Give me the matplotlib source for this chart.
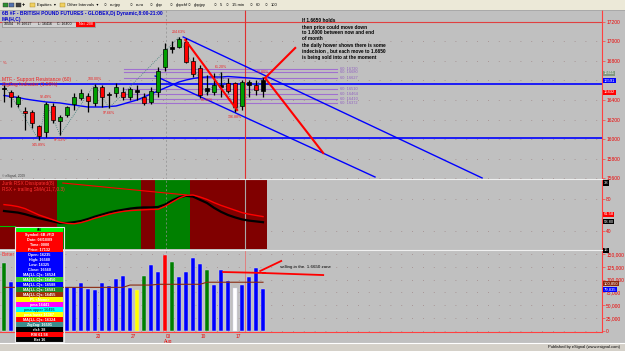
import matplotlib
matplotlib.use("Agg")
import matplotlib.pyplot as plt
from matplotlib.patches import Rectangle
from matplotlib import transforms

plt.rcParams['font.family'] = ['Liberation Sans', 'DejaVu Sans']
plt.rcParams['font.size'] = 3

# daily bars of 6B #F (1 Jul - 21 Aug 2009)
opens = [16522, 16481, 16358, 16287, 16277, 16134, 16073, 16338, 16185, 16246,
         16358, 16420, 16440, 16369, 16532, 16461, 16471, 16481, 16430, 16501,
         16430, 16379, 16481, 16736, 16940, 16940, 16991, 16797, 16726, 16522,
         16481, 16552, 16573, 16573, 16338, 16583, 16552, 16491]
highs = [16552, 16501, 16450, 16328, 16297, 16144, 16379, 16369, 16246, 16338,
         16471, 16511, 16471, 16562, 16552, 16481, 16573, 16532, 16532, 16552,
         16471, 16532, 16736, 16981, 17001, 17042, 17032, 16838, 16756, 16654,
         16675, 16685, 16624, 16583, 16603, 16603, 16603, 16634]
lows = [16379, 16328, 16328, 16093, 16114, 15991, 16022, 16165, 16042, 16226,
        16297, 16399, 16277, 16338, 16328, 16318, 16430, 16399, 16399, 16399,
        16348, 16358, 16430, 16695, 16879, 16930, 16777, 16634, 16420, 16450,
        16450, 16430, 16471, 16277, 16297, 16430, 16450, 16430]
closes = [16512, 16430, 16430, 16267, 16165, 16032, 16358, 16195, 16226, 16328,
          16430, 16471, 16389, 16532, 16430, 16450, 16532, 16430, 16511, 16481,
          16369, 16491, 16695, 16920, 16920, 17021, 16787, 16664, 16450, 16491,
          16552, 16532, 16491, 16328, 16583, 16552, 16501, 16603]
candle_colors = "krgrrrgrgg" "ggrgrkgrgk" "rgggkgrrrk" "gkrrgkrk"

# MA(H,C) curve on the price panel
ma_hc = [16445, 16435, 16425, 16410, 16399, 16389, 16379, 16374, 16369, 16358,
         16348, 16338, 16328, 16328, 16328, 16333, 16338, 16358, 16379, 16399,
         16430, 16461, 16491, 16522, 16552, 16583, 16603, 16619, 16629, 16634,
         16634, 16634, 16639, 16634, 16629, 16624, 16619, 16614]

volumes = [132500, 95500, 100000, 110000, 95000, 120000, 125000, 100000, 105000, 85700,
           85700, 93500, 81800, 79900, 93500, 87700, 101300, 107100, 83800, 79900,
           107100, 128600, 114900, 148000, 134400, 105200, 114900, 142200, 130500, 118800,
           89600, 118800, 97400, 83800, 89600, 105200, 122700, 81800]
volume_colors = "gbbbbbbbbbbbbbbbbbbygbbrgbbbbgbbbwbbbb"
vol_ma = [85000, 85000, 85000, 85000, 85000, 85000, 85000, 85000, 85000, 85000,
          85000, 85000, 85000, 85000, 85000, 85000, 85000, 85000, 89500, 89500,
          89500, 89500, 91000, 91000, 91000, 91000, 91000, 91000, 91000, 95000,
          95000, 95000, 95000, 95000, 95000, 95000, 95000, 95000]

# Jurik RSX and its trailing SMA
rsx = [65, 64, 63, 61, 58.5, 56, 54, 52, 50, 50,
       51, 52.5, 55, 58, 60.5, 63, 65, 66.5, 68, 69,
       69.5, 69.5, 70, 73, 78, 82, 84, 83, 79, 75,
       69, 64, 60, 57, 54.5, 53, 52, 51]
rsx_sma = [73, 72, 70.5, 68, 64, 60, 57, 54, 51, 49.5,
           49, 50.5, 53, 56, 58.5, 61, 63, 64.5, 65.5, 66,
           66.5, 67, 67, 71, 76, 81, 84.5, 85, 82.5, 79.5,
           75.5, 72, 69, 66, 63, 61, 59.5, 58]
rsx_zone = "rrrrrrrr" "gggggggggggg" "rr" "ggggg" "rrrrrrrrrrr"

# ZigZag pivots
zz_idx = [0, 5, 6, 8, 13, 15, 25, 29, 31, 33, 37]
zz_price = [16552, 15991, 16379, 16042, 16562, 16318, 17042, 16450, 16685, 16277, 16634]
zz_labels = ["", "145.89%", "92.49%", "97.53%", "100.00%", "97.66%", "204.63%",
             "80.96%", "61.20%", "136.88%", "98.80%"]

sr_levels = [16720, 16680, 16627, 16510, 16464, 16410, 16372]
blue_levels = [16565, 16010]
price_ticks = [15600, 15800, 16000, 16200, 16400, 16600, 16800, 17000, 17200]
price_labels = ["15600", "15800", "16000", "16200", "16400", "", "16800", "17000", "17200"]
rsi_ticks = [40, 80]
vol_ticks = [0, 25000, 50000, 75000, 100000, 125000, 150000]
date_ticks = [13, 18, 23, 28, 33]
date_labels = ["20", "27", "03", "10", "17"]

# hand drawn lines (bar index, value)
channel_lines = [([25.6, 68.3], [17042, 15604]), ([21.6, 53.0], [16644, 15614])]
red_lines = [([25.9, 33.3], [17011, 16297]), ([37.3, 41.6], [16624, 16930]),
             ([37.3, 45.6], [16624, 15859])]
rsx_trend = ([8.4, 26.1], [100, 85])
vol_lines = [([31.3, 37.3], [114900, 113000]), ([37.0, 45.6], [113000, 109000]),
             ([36.6, 39.6], [116900, 136400])]
cursor_bar = 34.43
week_bar = 23.14

note = ["If 1.6650 holds", "then price could move down", "to 1.6000 between now and end",
        "of month", "the daily hower shows there is some",
        "indecision , but each move to 1.6650", "is being sold into at the moment"]

info_rows = [("6B", "#00ff00", "black"),
             ("Symbol: 6B #F,D", "#ff0000", "white"), ("Date: 08/18/09", "#ff0000", "white"),
             ("Time: 0000", "#ff0000", "white"), ("Price: 17132", "#ff0000", "white"),
             ("Open: 16235", "#0000ff", "white"), ("High: 16580", "#0000ff", "white"),
             ("Low: 16325", "#0000ff", "white"), ("Close: 16560", "#0000ff", "white"),
             ("MA(1,L,C)s: 16524", "#0000ff", "white"), ("MA(1,L,C)s: 16450", "#33cc33", "white"),
             ("MA(1,L,C)s: 16588", "#0000ff", "white"), ("MA(1,L,C)s: 16581", "#228b22", "white"),
             ("MA(1,L,C)s: 16455", "#a0300a", "white"), ("PL <None>", "#ffff00", "white"),
             ("pma 16441", "#ff00ff", "white"), ("pma upper 16495", "#00ffff", "#006060"),
             ("pma lower 16387", "#ffff00", "white"), ("MA(1,L,C)s: 16324", "#ff0000", "white"),
             ("ZigZag: 16591", "#3c8c8c", "white"), ("rlsf: 38", "#000000", "white"),
             ("RSI 61.58", "#ff0000", "white"), ("Bet 16", "#000000", "white")]

W, H = 625, 351
BG = "#c0c0c0"
XLIM = (-4 / 7.0, 598 / 7.0)


def fbox(x0, y0, x1, y1):
    return [x0 / W, 1 - y1 / H, (x1 - x0) / W, (y1 - y0) / H]


def panel(x0, y0, x1, y1, ylim, ticks, labels):
    ax = fig.add_axes(fbox(x0, y0, x1, y1))
    ax.set_facecolor(BG)
    ax.set_xlim(XLIM)
    ax.set_ylim(ylim)
    for s in ["left", "top", "bottom"]:
        ax.spines[s].set_visible(False)
    ax.spines["right"].set_color("#ff4040")
    ax.spines["right"].set_linewidth(0.8)
    ax.yaxis.tick_right()
    ax.set_yticks(ticks)
    ax.set_yticklabels(labels)
    ax.tick_params(axis="y", length=2, width=0.5, color="#ff4040", labelcolor="#ee0000",
                   labelsize=3.5, pad=1)
    ax.set_xticks([])
    for t in ticks:
        ax.axhline(t, color="#a08888", lw=0.6, ls=(0, (1, 12)), zorder=0)
    ax.axvline(week_bar, color="#909090", lw=0.5, ls=(0, (3, 3)), zorder=1)
    return ax


def side_box(ax, y, s, fc, tc="white"):
    ax.text(1.003, y, s, transform=ax.get_yaxis_transform(), fontsize=3, color=tc,
            va="center", ha="left", bbox=dict(fc=fc, ec="none", pad=0.4), clip_on=False)


fig = plt.figure(figsize=(W / 100, H / 100), dpi=100)
fig.patch.set_facecolor(BG)

# ---- price panel ----
ax_p = panel(0, 9.5, 602, 178.5, (15598.6, 17322.4), price_ticks, price_labels)
ax_p.axhline(17200, color="#e04040", lw=0.8)
for lv in blue_levels:
    ax_p.axhline(lv, color="#0000ff", lw=1.2)
for lv in sr_levels:
    ax_p.plot([17.1, 47.6], [lv, lv], color="#a070d0", lw=0.8)
    ax_p.text(48.0, lv, "60: %d" % lv, color="#9060c0", fontsize=2.8, va="center")
ax_p.axvline(cursor_bar, color="#e03030", lw=0.8)
for xs, ys in channel_lines:
    ax_p.plot(xs, ys, color="#0000ff", lw=1.0)
ax_p.plot(range(len(ma_hc)), ma_hc, color="#0000ff", lw=1.0)
ax_p.plot(zz_idx, zz_price, color="#40807a", lw=0.6, ls=(0, (1, 1.5)))
for i in range(len(opens)):
    o, c = opens[i], closes[i]
    col = {"g": "#00a000", "r": "#ff0000", "k": "#000000"}[candle_colors[i]]
    ax_p.vlines(i, lows[i], highs[i], color="black", lw=0.9, zorder=3)
    ax_p.add_patch(Rectangle((i - 0.34, min(o, c)), 0.68, max(abs(c - o), 8),
                             fc=col, ec="black", lw=0.5, zorder=4))
for k in range(1, len(zz_idx)):
    up = zz_price[k] > zz_price[k - 1]
    ax_p.annotate(zz_labels[k], (zz_idx[k], zz_price[k]), xytext=(0, 2.2 if up else -2.2),
                  textcoords="offset points", ha="center", va="bottom" if up else "top",
                  color="#ee2020", fontsize=2.6, zorder=5)
for xs, ys in red_lines:
    ax_p.plot(xs, ys, color="#ff0000", lw=1.5, zorder=5)
side_box(ax_p, 16672, "16611", "#809880")
side_box(ax_p, 16598, "16591", "#0000ff")
side_box(ax_p, 16478, "16432", "#ff0000")

# ---- RSX panel ----
ax_r = panel(0, 180, 602, 249, (17.5, 103.75), rsi_ticks, [str(t) for t in rsi_ticks])
for i, z in enumerate(rsx_zone):
    ax_r.axvspan(i - 0.5, i + 0.5, color="#800000" if z == "r" else "#008000", lw=0, zorder=0.5)
ax_r.axvline(cursor_bar, color="#a8a8a8", lw=0.8)
ax_r.plot([-0.6, 1.6], [46, 46], color="#00c000", lw=0.8)
ax_r.plot(range(len(rsx)), rsx, color="black", lw=1.6)
ax_r.plot(range(len(rsx_sma)), rsx_sma, color="#ff0000", lw=1.0)
ax_r.plot(rsx_trend[0], rsx_trend[1], color="#ff0000", lw=0.8)
side_box(ax_r, 100, "38", "black")
side_box(ax_r, 61, "61.58", "#ff0000")
side_box(ax_r, 51.5, "58.80", "black")

# ---- volume panel ----
ax_v = panel(0, 250, 602, 332, (-1948, 157792), vol_ticks, ["{:,}".format(t) for t in vol_ticks])
ax_v.spines["bottom"].set_visible(True)
ax_v.spines["bottom"].set_color("#ff4040")
ax_v.axvline(cursor_bar, color="#e08080", lw=0.7)
cmap = {"g": "#008000", "b": "#0000ff", "y": "#ffff00", "r": "#ff0000", "w": "#ffffff"}
ax_v.bar(range(len(volumes)), volumes, width=0.45, color=[cmap[c] for c in volume_colors],
         edgecolor="#d8d8f0", lw=0.3, zorder=2)
ax_v.plot(range(len(vol_ma)), vol_ma, color="#8b2a10", lw=0.8, zorder=3)
for xs, ys in vol_lines:
    ax_v.plot(xs, ys, color="#ff0000", lw=1.3, zorder=4)
ax_v.text(39.5, 124700, "selling in the  1.6650 zone", fontsize=3.2, va="center", zorder=4)
side_box(ax_v, 157000, "16", "black")
side_box(ax_v, 93000, "100,850", "#8b2a10")
side_box(ax_v, 80500, "79,835", "#0000ff")
tr = transforms.blended_transform_factory(ax_v.transData, ax_v.transAxes)
for t, s in zip(date_ticks, date_labels):
    ax_v.text(t + 0.45, -0.05, s, transform=tr, color="#ee0000", fontsize=3.4,
              ha="center", va="center", clip_on=False)
ax_v.text(23.45, -0.115, "Aug", transform=tr, color="#ee0000", fontsize=3.4,
          ha="center", va="center", clip_on=False)

# ---- window decorations in pixel coordinates ----
ov = fig.add_axes([0, 0, 1, 1], zorder=10)
ov.set_xlim(0, W)
ov.set_ylim(H, 0)
ov.axis("off")
ov.patch.set_visible(False)

ov.add_patch(Rectangle((0, 0), W, 9.5, fc="#ece9d8", ec="none"))
ov.plot([0, W], [9.5, 9.5], color="#a0a0a0", lw=0.5)
for x, c in [(3, "#2f8f2f"), (9, "#5070b0"), (16, "#404040")]:
    ov.add_patch(Rectangle((x, 2.5), 4.5, 4.5, fc=c, ec="#303030", lw=0.3))
ov.text(22, 5, "+", fontsize=4, va="center", weight="bold")
for x in [30, 60]:
    ov.add_patch(Rectangle((x, 2.8), 5, 4, fc="#f0d060", ec="#a08020", lw=0.3))
ov.text(37, 5, "Equities  \u25be", fontsize=3, va="center")
ov.text(67, 5, "Other Intervals  \u25be", fontsize=3, va="center")
for x, s in [(104, "eurjpy"), (130, "euro"), (150, "gbp"), (170, "gbpchf"), (188, "gbpjpy"),
             (214, "5"), (226, "15 min"), (250, "60"), (265, "100")]:
    ov.text(x, 5, "\u25cb", fontsize=3.5, va="center")
    ov.text(x + 6, 5, s, fontsize=3, va="center")

ov.text(2, 13.5, "6B #F - BRITISH POUND FUTURES - GLOBEX,Dj Dynamic,8:00-21:00",
        color="#0000cc", fontsize=3.5, weight="bold", va="center")
ov.text(2, 19, "MA(H,C)", color="#0000cc", fontsize=3.5, weight="bold", va="center")
ov.add_patch(Rectangle((2, 22), 93, 4.8, fc="#d0d0d0", ec="#808080", lw=0.4))
for x, s in [(4, "10504"), (17, "H: 16627"), (38, "L: 16416"), (57, "C: 16400")]:
    ov.text(x, 24.4, s, fontsize=2.6, va="center")
ov.add_patch(Rectangle((76, 22), 19, 4.8, fc="#ff0000", ec="none"))
ov.text(85.5, 24.4, "Net -208", fontsize=2.6, va="center", ha="center", color="white")

ov.text(3, 63, "%", color="#ee2020", fontsize=3, va="center")
ov.text(2, 79, "MTF - Support Resistance (60)", color="#ee2020", fontsize=3.6, va="center")
ov.text(2, 84.5, "ZigZag Indicator (1.50%)", color="#ee2020", fontsize=3.6, va="center")
ov.text(2, 176, "\u00a9 eSignal, 2009", color="#404040", fontsize=2.3, va="center")
for k, s in enumerate(note):
    ov.text(302, 21 + 6 * k, s, fontsize=3.4, weight="bold", va="center")

ov.text(2, 183, "Jurik RSX Dissipated(8)", color="#ff3030", fontsize=3.5, va="center")
ov.text(2, 189, "RSX + trailing SMA(11,7,0.3)", color="#ff3030", fontsize=3.5, va="center")
ov.text(2, 255, "Better", color="#ff3030", fontsize=3.5, va="center")

ov.plot([0, 602], [179.2, 179.2], color="#f0f0f0", lw=0.8)
ov.plot([0, 602], [249.5, 249.5], color="#f0f0f0", lw=0.8)

for k, (s, bg, fg) in enumerate(info_rows):
    y0 = 227 + 5 * k
    ov.add_patch(Rectangle((16, y0), 47, 5, fc=bg, ec="none", zorder=2))
    ov.text(39.5, y0 + 2.6, s, color=fg, fontsize=2.7, weight="bold", ha="center",
            va="center", zorder=3)
ov.add_patch(Rectangle((15, 227), 49, 5 * len(info_rows), fc="none", ec="#e8e8e8", lw=0.8, zorder=3))

ov.add_patch(Rectangle((0, 343), W, 8, fc="#d4d0c8", ec="none", zorder=5))
ov.plot([0, W], [343, 343], color="white", lw=0.8, zorder=6)
ov.text(620, 347.3, "Published by eSignal (www.esignal.com)", fontsize=2.9, ha="right",
        va="center", zorder=6)

fig.savefig("out.png", dpi=100, facecolor=fig.get_facecolor())
